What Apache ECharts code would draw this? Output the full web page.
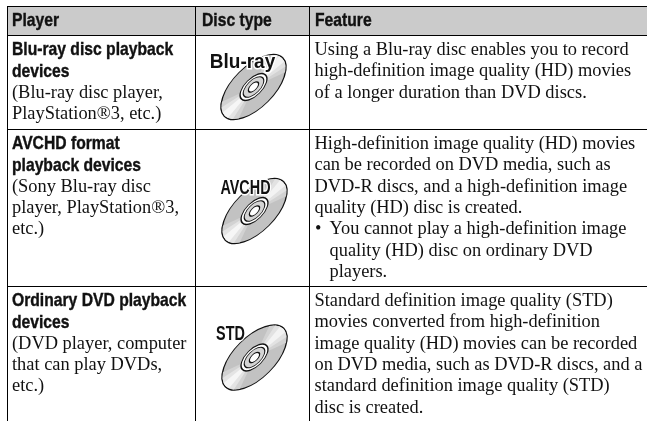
<!DOCTYPE html>
<html lang="en">
<head>
  <meta charset="UTF-8">
  <title>Player / Disc type / Feature</title>
  <style>
    html, body { margin: 0; padding: 0; background: #fff; overflow: hidden; }
    #main { width: 647px; height: 421px; }
  </style>
</head>
<body>
  <div id="main"></div>
  <script src="https://cdn.jsdelivr.net/npm/echarts@6/dist/echarts.min.js"></script>
  <script>
    var columnTitles = ['Player', 'Disc type', 'Feature'];
    var playerTitles = [
      ['Blu-ray disc playback', 'devices'],
      ['AVCHD format', 'playback devices'],
      ['Ordinary DVD playback', 'devices']
    ];
    var playerNotes = [
      ['(Blu-ray disc player,', 'PlayStation®3, etc.)'],
      ['(Sony Blu-ray disc', 'player, PlayStation®3,', 'etc.)'],
      ['(DVD player, computer', 'that can play DVDs,', 'etc.)']
    ];
    var discLabels = ['Blu-ray', 'AVCHD', 'STD'];
    var featureLines = [
      ['Using a Blu-ray disc enables you to record',
       'high-definition image quality (HD) movies',
       'of a longer duration than DVD discs.'],
      ['High-definition image quality (HD) movies',
       'can be recorded on DVD media, such as',
       'DVD-R discs, and a high-definition image',
       'quality (HD) disc is created.'],
      ['Standard definition image quality (STD)',
       'movies converted from high-definition',
       'image quality (HD) movies can be recorded',
       'on DVD media, such as DVD-R discs, and a',
       'standard definition image quality (STD)',
       'disc is created.']
    ];
    var featureBullets = [
      [],
      ['You cannot play a high-definition image',
       'quality (HD) disc on ordinary DVD',
       'players.'],
      []
    ];

    // table geometry
    var tableLeft = 7, tableRight = 647, tableTop = 6.5, headBottom = 35;
    var rowLines = [129, 286];
    var colLines = [195, 309];
    var rowTops = [35, 129, 286];
    var discCenters = [[253.5, 87], [254.5, 211], [254.5, 357.5]];
    var labelPos = [[242.5, 62.5], [245.5, 188], [230.5, 334]];
    var labelScale = [0.95, 0.72, 0.72];
    var lineH = 21.35;
    var serifSize = 18.4;
    var boldSize = 19, boldScale = 0.825;
    var boldFont = '"Liberation Sans", sans-serif';
    var serifFont = '"Liberation Serif", serif';

    var els = [];

    function hline(y) {
      els.push({ type: 'line', silent: true, shape: { x1: tableLeft, y1: y, x2: tableRight, y2: y }, style: { stroke: '#000', lineWidth: 1 } });
    }
    function vline(x) {
      els.push({ type: 'line', silent: true, shape: { x1: x, y1: tableTop, x2: x, y2: 421 }, style: { stroke: '#000', lineWidth: 1 } });
    }
    function serifText(str, x, y) {
      els.push({
        type: 'text', silent: true, x: x, y: y,
        style: { text: str, fill: '#111', font: serifSize + 'px ' + serifFont, verticalAlign: 'middle' }
      });
    }
    function boldText(str, x, y) {
      els.push({
        type: 'text', silent: true, x: x, y: y, scaleX: boldScale,
        style: { text: str, fill: '#111', stroke: '#111', lineWidth: 0.4, font: 'bold ' + boldSize + 'px ' + boldFont, verticalAlign: 'middle' }
      });
    }

    // header band
    els.push({ type: 'rect', silent: true, shape: { x: tableLeft, y: tableTop, width: tableRight - tableLeft, height: headBottom - tableTop }, style: { fill: '#cbcbcb' } });

    hline(tableTop);
    hline(headBottom + 0.5);
    rowLines.forEach(function (y) { hline(y + 0.5); });
    vline(tableLeft + 0.5);
    colLines.forEach(function (x) { vline(x + 0.5); });

    boldText(columnTitles[0], 12, 21);
    boldText(columnTitles[1], 202, 21);
    boldText(columnTitles[2], 315, 21);

    rowTops.forEach(function (rowTop, r) {
      var y = rowTop + 15;
      playerTitles[r].forEach(function (line, i) {
        boldText(line, 12, y + i * lineH);
      });
      playerNotes[r].forEach(function (line, i) {
        serifText(line, 12, y + (i + playerTitles[r].length) * lineH);
      });
      featureLines[r].forEach(function (line, i) {
        serifText(line, 314.5, y + i * lineH);
      });
      var start = featureLines[r].length;
      featureBullets[r].forEach(function (line, i) {
        if (i === 0) serifText('•', 315, y + start * lineH);
        serifText(line, 329.5, y + (start + i) * lineH);
      });
    });

    // one disc, drawn as a circle squashed and tilted
    function disc(c) {
      var R = 41;
      var wedge = function (mid, half, fill) {
        return { type: 'sector', silent: true, shape: { cx: 0, cy: 0, r: R - 0.5, r0: 6, startAngle: Math.PI * (mid - half), endAngle: Math.PI * (mid + half) }, style: { fill: fill } };
      };
      els.push({
        type: 'group', silent: true, x: c[0], y: c[1], rotation: Math.PI / 4, scaleY: 0.5,
        children: [
          { type: 'circle', silent: true, shape: { cx: 0, cy: 0, r: R }, style: { fill: '#c2c2c2', stroke: '#111', lineWidth: 1.4, strokeNoScale: true } },
          wedge(0, 0.2, '#d2d2d2'),
          wedge(0, 0.13, '#e2e2e2'),
          wedge(0, 0.06, '#f3f3f3'),
          wedge(1, 0.2, '#d2d2d2'),
          wedge(1, 0.13, '#e4e4e4'),
          wedge(1, 0.06, '#f6f6f6'),
          { type: 'circle', silent: true, shape: { cx: 0, cy: 0, r: 17 }, style: { fill: '#fff', stroke: '#111', lineWidth: 1.2, strokeNoScale: true } },
          { type: 'circle', silent: true, shape: { cx: 0, cy: 0, r: 13 }, style: { fill: '#d4d4d4', stroke: '#111', lineWidth: 1, strokeNoScale: true } },
          { type: 'circle', silent: true, shape: { cx: 0, cy: 0, r: 6.5 }, style: { fill: '#fff', stroke: '#111', lineWidth: 1.1, strokeNoScale: true } }
        ]
      });
    }
    discCenters.forEach(disc);

    discLabels.forEach(function (label, i) {
      els.push({
        type: 'text', silent: true, x: labelPos[i][0], y: labelPos[i][1], scaleX: labelScale[i],
        style: {
          text: label, fill: '#111', stroke: '#fff', lineWidth: 3,
          font: 'bold 20px ' + boldFont, align: 'center', verticalAlign: 'middle'
        }
      });
    });

    var myChart = echarts.init(document.getElementById('main'), null, { renderer: 'canvas' });
    myChart.setOption({
      animation: false,
      backgroundColor: '#fff',
      graphic: { elements: els }
    });
  </script>
</body>
</html>
